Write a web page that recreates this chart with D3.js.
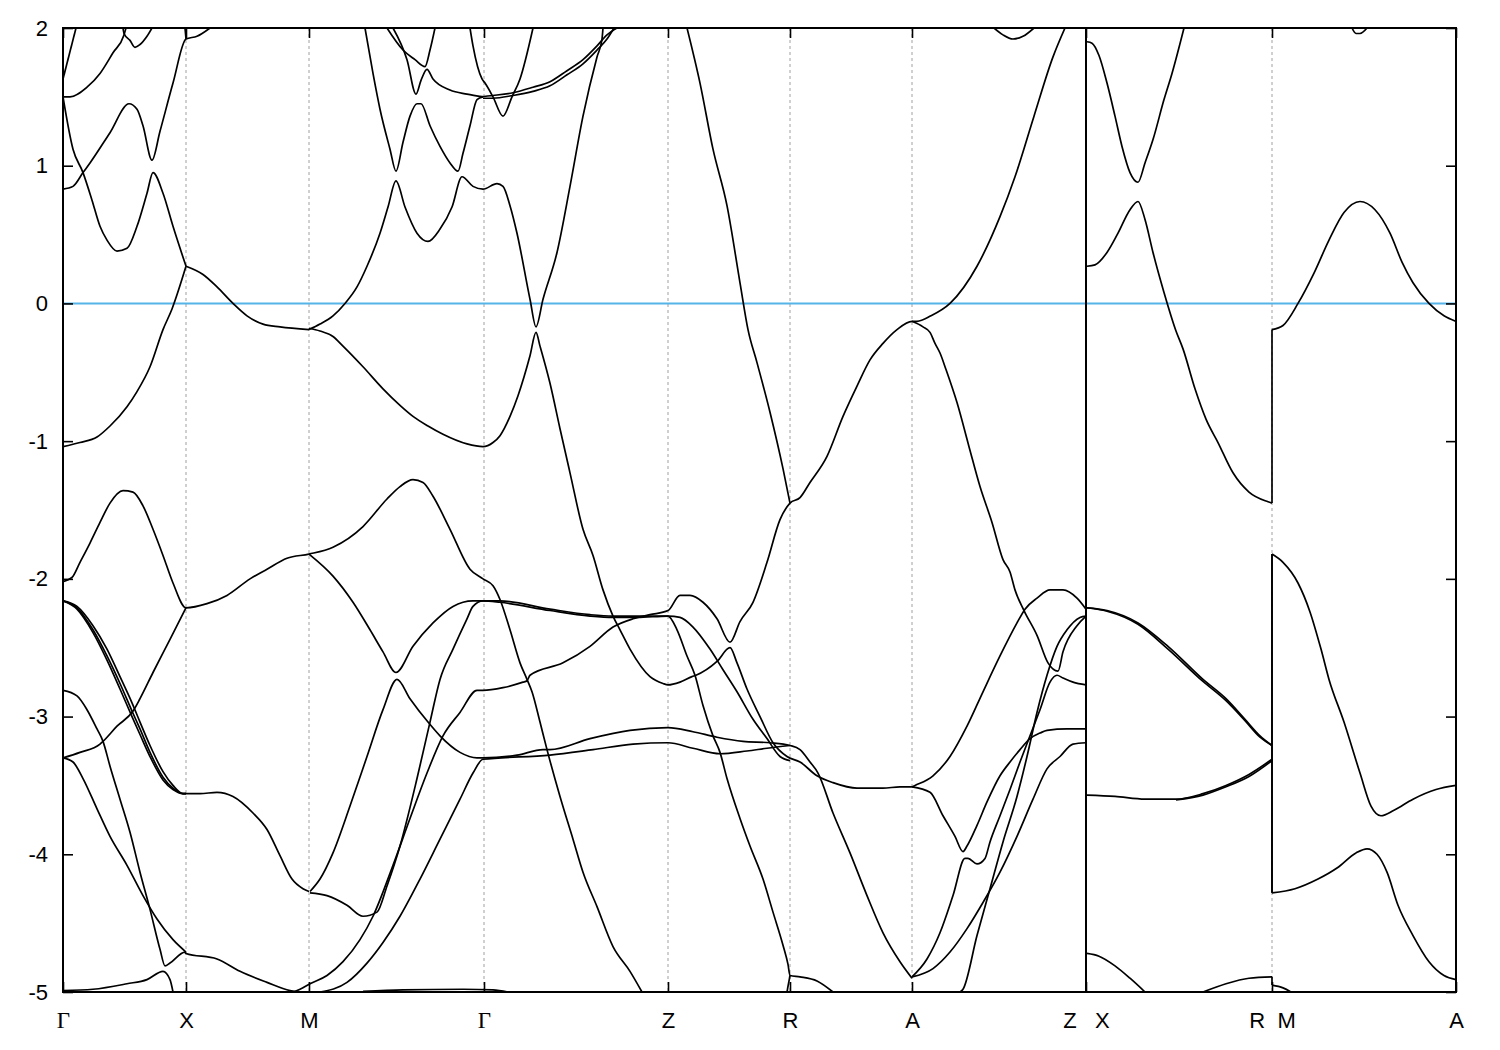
<!DOCTYPE html>
<html><head><meta charset="utf-8">
<script src="https://cdn.jsdelivr.net/npm/d3@7"></script>
<style>
body{margin:0;background:#fff}
svg{display:block}
text{font-family:"Liberation Sans",Arial,Helvetica,sans-serif;}
</style>
</head><body>
<svg id="chart" width="1500" height="1050"></svg>
<script>
// ---------- high-symmetry path (k in path-length units) ----------
const kTickPos    = [0, 123, 246, 421, 605, 727, 849, 1023, 1209, 1393];
const kTickLabels = ["Γ", "X", "M", "Γ", "Z", "R", "A", "Z   X", "R  M", "A"];
const kBreaks     = [1023];          // panel break drawn as solid line
const energyTicks = [-5, -4, -3, -2, -1, 0, 1, 2];
const energyRange = [-5, 2];
const fermiLevel  = 0;

// ---------- bands: [k, E(eV)] ----------
// Γ–X–M–Γ–Z–R–A–Z panel
const bandU1 = [[0,1.63],[13,2.0]];
const bandU2 = [[0,1.5],[7,1.5],[24,1.57],[37,1.67],[50,1.82],[61,1.95],[63,2.0]];
const bandU3 = [[60,2.0],[61,1.96],[67,1.91],[72,1.86],[77,1.88],[84,1.94],[89,2.0]];
const bandU4 = [[0,1.5],[10,1.12],[20,0.95],[29,0.75],[37,0.56],[44,0.46],[54,0.38],[64,0.40],[74,0.56],[84,0.80],[90,0.95],[100,0.80],[110,0.56],[123,0.27]];
const bandU5 = [[0,0.83],[10,0.85],[20,0.95],[27,1.02],[47,1.24],[66,1.45],[74,1.41],[80,1.29],[89,1.04],[97,1.25],[110,1.6],[123,1.92],[134,1.94],[147,2.0]];
const bandU6 = [[122,2.0],[123,1.92]];
const bandXM1 = [[123,0.27],[140,0.21],[154,0.12],[170,0.0],[184,-0.09],[200,-0.15],[217,-0.17],[246,-0.19]];
const bandC1 = [[302,2.0],[310,1.67],[317,1.41],[327,1.12],[333,0.96],[340,1.17],[347,1.36],[354,1.45],[358,1.45],[367,1.29],[377,1.14],[387,1.02],[395,0.96],[400,1.09],[407,1.29],[414,1.48],[420,1.5]];
const bandC2 = [[246,-0.19],[257,-0.15],[270,-0.09],[282,0.0],[294,0.12],[304,0.27],[317,0.51],[325,0.70],[333,0.89],[342,0.70],[354,0.51],[365,0.45],[377,0.54],[389,0.70],[399,0.92],[410,0.85],[420,0.83],[434,0.87],[440,0.85],[447,0.71],[454,0.51],[467,0.03],[473,-0.17],[480,0.03],[494,0.37],[507,0.85],[520,1.36],[534,1.79],[539,1.92],[540,2.0]];
const bandC3 = [[324,2.0],[340,1.84],[352,1.77],[362,1.72],[367,1.84],[372,2.0]];
const bandC4 = [[330,2.0],[344,1.77],[353,1.52],[358,1.62],[364,1.70],[370,1.63],[387,1.55],[404,1.52],[420,1.5]];
const bandC5 = [[407,2.0],[410,1.87],[419,1.63],[422,1.6],[430,1.5],[440,1.36],[449,1.5],[457,1.63],[470,2.0]];
const bandC6 = [[417,1.5],[430,1.51],[450,1.53],[470,1.57],[487,1.61],[504,1.69],[520,1.77],[534,1.87],[544,1.95],[554,2.0]];
const bandC7 = [[420,1.49],[430,1.49],[450,1.51],[470,1.54],[487,1.58],[504,1.66],[520,1.74],[534,1.84],[544,1.92],[551,2.0]];
const bandG1 = [[0,-1.04],[17,-1.01],[34,-0.97],[47,-0.89],[64,-0.75],[74,-0.64],[87,-0.46],[100,-0.19],[109,-0.04],[123,0.27]];
const bandG2 = [[0,-2.02],[9,-1.99],[17,-1.88],[27,-1.74],[37,-1.59],[47,-1.45],[60,-1.36],[70,-1.37],[80,-1.47],[90,-1.64],[100,-1.83],[110,-2.03],[123,-2.21],[144,-2.18],[164,-2.12],[187,-2.0],[204,-1.93],[224,-1.85],[246,-1.82],[270,-1.77],[300,-1.62],[324,-1.42],[337,-1.33],[350,-1.28],[360,-1.30],[370,-1.40],[387,-1.64],[407,-1.93],[420,-2.0],[430,-2.05],[437,-2.15],[447,-2.37],[457,-2.61],[464,-2.73],[469,-2.82],[477,-3.04],[484,-3.24],[497,-3.58],[510,-3.89],[520,-4.13],[534,-4.38],[550,-4.67],[567,-4.85],[579,-5.0]];
const bandG3 = [[0,-3.30],[17,-3.26],[37,-3.20],[40,-3.18],[54,-3.07],[70,-2.96],[77,-2.87],[90,-2.68],[107,-2.44],[123,-2.21]];
const bandG4 = [[0,-2.81],[14,-2.85],[24,-2.95],[34,-3.09],[40,-3.18],[47,-3.36],[57,-3.60],[67,-3.84],[77,-4.13],[87,-4.40],[97,-4.69],[102,-4.81],[107,-4.79],[122,-4.71],[123,-4.72],[154,-4.76],[177,-4.85],[204,-4.93],[227,-4.99],[234,-5.0]];
const bandG5 = [[0,-3.30],[10,-3.33],[20,-3.45],[34,-3.67],[47,-3.87],[64,-4.08],[80,-4.30],[94,-4.47],[110,-4.62],[123,-4.71]];
const bandG6a = [[0,-2.16],[14,-2.20],[30,-2.34],[44,-2.51],[57,-2.71],[69,-2.90],[77,-3.04],[87,-3.21],[100,-3.40],[110,-3.50],[120,-3.56],[123,-3.56]];
const bandG6b = [[0,-2.16],[14,-2.21],[30,-2.37],[44,-2.56],[57,-2.76],[69,-2.96],[77,-3.09],[87,-3.26],[100,-3.44],[110,-3.52],[120,-3.56],[123,-3.56]];
const bandG6c = [[0,-2.16],[14,-2.22],[30,-2.39],[44,-2.59],[57,-2.80],[69,-3.00],[77,-3.13],[87,-3.29],[100,-3.46],[110,-3.53],[120,-3.56],[123,-3.56]];
const bandXM2 = [[123,-3.56],[137,-3.56],[154,-3.55],[170,-3.58],[190,-3.70],[204,-3.82],[217,-4.01],[229,-4.18],[240,-4.25],[246,-4.27]];
const bandBotGX = [[0,-4.99],[30,-4.98],[64,-4.94],[84,-4.91],[100,-4.85],[107,-4.91],[110,-5.0]];
const bandBotMG = [[300,-4.995],[340,-4.985],[400,-4.98],[430,-4.985],[445,-5.0]];
const bandE1 = [[246,-0.18],[257,-0.20],[270,-0.24],[280,-0.31],[300,-0.46],[320,-0.62],[337,-0.74],[350,-0.82],[365,-0.89],[380,-0.95],[404,-1.02],[420,-1.04],[430,-1.01],[437,-0.96],[447,-0.82],[455,-0.67],[467,-0.38],[473,-0.21],[477,-0.31],[487,-0.58],[497,-0.91],[507,-1.23],[520,-1.64],[530,-1.83],[540,-2.08],[550,-2.27],[557,-2.37],[567,-2.51],[587,-2.71],[600,-2.76],[605,-2.77],[617,-2.75],[629,-2.71],[633,-2.70],[654,-2.60],[667,-2.50],[674,-2.61],[684,-2.80],[697,-3.0],[710,-3.19],[724,-3.29],[737,-3.33],[754,-3.43],[770,-3.48],[794,-3.52],[820,-3.52],[837,-3.51],[849,-3.51],[852,-3.50],[870,-3.43],[887,-3.29],[904,-3.07],[920,-2.82],[937,-2.56],[954,-2.32],[962,-2.22],[974,-2.14],[987,-2.08],[1000,-2.08],[1014,-2.14],[1023,-2.22]];
const bandL1 = [[230,-5.0],[237,-4.98],[247,-4.94],[264,-4.88],[280,-4.78],[297,-4.62],[310,-4.45],[330,-4.08],[347,-3.74],[364,-3.41],[380,-3.14],[397,-2.97],[414,-2.81],[420,-2.81],[440,-2.79],[460,-2.75],[464,-2.74],[467,-2.70],[500,-2.61],[527,-2.49],[550,-2.35],[570,-2.29],[587,-2.26],[605,-2.23],[617,-2.12],[627,-2.12],[640,-2.17],[654,-2.29],[667,-2.46],[677,-2.31],[690,-2.17],[704,-1.88],[717,-1.57],[727,-1.45],[737,-1.41],[747,-1.30],[764,-1.11],[780,-0.82],[794,-0.60],[807,-0.41],[820,-0.29],[834,-0.19],[849,-0.13],[854,-0.13],[868,-0.09],[887,0.0],[914,0.27],[937,0.63],[952,0.92],[971,1.36],[990,1.79],[1002,2.0]];
const bandL5 = [[247,-4.27],[257,-4.18],[270,-3.99],[287,-3.65],[304,-3.29],[320,-2.95],[334,-2.73],[347,-2.87],[365,-3.04],[377,-3.14],[397,-3.26],[414,-3.30],[420,-3.30],[454,-3.28],[480,-3.24],[487,-3.24],[527,-3.16],[567,-3.10],[605,-3.08],[630,-3.11],[654,-3.15],[680,-3.18],[707,-3.19],[727,-3.21],[737,-3.24],[747,-3.33],[755,-3.41],[770,-3.70],[787,-3.99],[804,-4.30],[820,-4.57],[837,-4.78],[849,-4.90]];
const bandL6 = [[257,-5.0],[284,-4.93],[304,-4.79],[320,-4.64],[337,-4.45],[357,-4.18],[377,-3.89],[397,-3.60],[410,-3.41],[420,-3.31],[487,-3.28],[530,-3.24],[570,-3.20],[605,-3.19],[630,-3.23],[657,-3.27],[684,-3.25],[704,-3.23],[727,-3.21]];
const bandII = [[247,-4.28],[264,-4.30],[284,-4.37],[300,-4.45],[314,-4.42],[324,-4.23],[337,-3.94],[354,-3.45],[367,-3.04],[377,-2.73],[390,-2.51],[404,-2.29],[410,-2.20],[420,-2.16],[437,-2.16],[487,-2.22],[527,-2.26],[550,-2.27],[574,-2.27],[605,-2.27],[617,-2.28],[630,-2.35],[647,-2.51],[660,-2.66],[674,-2.82],[690,-3.02],[704,-3.16],[717,-3.29],[727,-3.32]];
const bandV = [[246,-1.82],[270,-1.98],[290,-2.17],[307,-2.37],[320,-2.53],[333,-2.68],[350,-2.49],[370,-2.32],[390,-2.20],[410,-2.16],[420,-2.16],[437,-2.17],[487,-2.23],[527,-2.27],[550,-2.28],[574,-2.28],[605,-2.27],[614,-2.37],[624,-2.56],[632,-2.70],[640,-2.92],[650,-3.14],[657,-3.26],[664,-3.45],[677,-3.74],[687,-3.94],[700,-4.18],[710,-4.42],[720,-4.66],[725,-4.80],[727,-4.88],[737,-4.89],[754,-4.92],[770,-5.0]];
const bandRbot = [[724,-5.0],[727,-4.88]];
const bandZR1 = [[624,2.0],[637,1.60],[650,1.12],[664,0.71],[677,0.15],[685,-0.19],[694,-0.43],[707,-0.79],[720,-1.20],[727,-1.45]];
const bandE2 = [[849,-0.13],[860,-0.17],[867,-0.21],[872,-0.29],[877,-0.36],[883,-0.48],[894,-0.72],[906,-1.04],[917,-1.33],[929,-1.59],[940,-1.86],[947,-1.95],[952,-2.08],[961,-2.23],[974,-2.41],[985,-2.61],[995,-2.67],[1000,-2.53],[1014,-2.34],[1023,-2.27]];
const bandW1 = [[849,-3.51],[867,-3.55],[880,-3.72],[892,-3.87],[900,-3.98],[904,-3.94],[914,-3.79],[924,-3.62],[937,-3.43],[947,-3.33],[957,-3.24],[967,-3.16],[977,-3.12],[984,-3.10],[1004,-3.09],[1023,-3.09]];
const bandW2 = [[849,-4.89],[864,-4.76],[877,-4.57],[890,-4.30],[902,-4.03],[905,-4.03],[914,-4.07],[922,-4.03],[927,-3.91],[937,-3.72],[947,-3.53],[957,-3.33],[967,-3.14],[977,-2.95],[987,-2.75],[994,-2.70],[1000,-2.72],[1010,-2.75],[1023,-2.77]];
const bandW3 = [[849,-4.89],[870,-4.83],[887,-4.71],[904,-4.54],[920,-4.35],[937,-4.13],[954,-3.87],[970,-3.60],[984,-3.38],[997,-3.29],[1010,-3.20],[1023,-3.19]];
const bandW4 = [[897,-5.0],[900,-4.98],[914,-4.59],[927,-4.25],[940,-3.91],[954,-3.58],[964,-3.29],[974,-2.97],[984,-2.70],[994,-2.49],[1004,-2.37],[1017,-2.28],[1023,-2.27]];
const bandAZtop = [[931,2.0],[940,1.95],[950,1.92],[960,1.94],[971,2.0]];
// X–R | M–A panel
const bandR1 = [[1024,1.90],[1029,1.89],[1036,1.80],[1044,1.60],[1052,1.36],[1059,1.14],[1067,0.95],[1075,0.88],[1082,1.02],[1090,1.19],[1101,1.48],[1109,1.67],[1121,2.0]];
const bandR2 = [[1024,0.27],[1032,0.28],[1044,0.37],[1055,0.51],[1067,0.68],[1075,0.74],[1082,0.61],[1090,0.37],[1101,0.08],[1113,-0.20],[1120,-0.33],[1132,-0.62],[1143,-0.84],[1155,-1.01],[1170,-1.23],[1186,-1.37],[1205,-1.44],[1209,-1.45],[1209,-0.19],[1220,-0.16],[1235,0.0],[1251,0.22],[1266,0.46],[1281,0.66],[1297,0.74],[1312,0.68],[1327,0.51],[1339,0.30],[1350,0.15],[1366,0.0],[1381,-0.09],[1393,-0.13]];
const bandR3a = [[1024,-2.21],[1044,-2.23],[1075,-2.32],[1105,-2.49],[1140,-2.73],[1163,-2.87],[1182,-3.02],[1197,-3.14],[1209,-3.21],[1209,-1.82],[1220,-1.88],[1235,-2.03],[1247,-2.24],[1258,-2.51],[1266,-2.73],[1281,-3.04],[1297,-3.41],[1308,-3.65],[1318,-3.72],[1331,-3.68],[1350,-3.60],[1373,-3.53],[1393,-3.50]];
const bandR3b = [[1024,-2.21],[1044,-2.235],[1075,-2.33],[1105,-2.51],[1140,-2.745],[1163,-2.885],[1182,-3.03],[1197,-3.15],[1209,-3.21],[1209,-4.28]];
const bandR4a = [[1024,-3.57],[1052,-3.58],[1082,-3.60],[1113,-3.60],[1140,-3.56],[1163,-3.50],[1186,-3.42],[1209,-3.31],[1209,-4.28],[1232,-4.25],[1255,-4.18],[1274,-4.10],[1293,-3.99],[1304,-3.96],[1314,-4.0],[1324,-4.13],[1335,-4.37],[1350,-4.59],[1366,-4.78],[1381,-4.88],[1393,-4.91]];
const bandR4b = [[1113,-3.605],[1140,-3.57],[1163,-3.51],[1186,-3.435],[1209,-3.32],[1209,-1.82]];
const bandR5 = [[1024,-4.72],[1036,-4.74],[1052,-4.81],[1067,-4.90],[1082,-5.0]];
const bandR6 = [[1140,-5.0],[1163,-4.94],[1186,-4.90],[1209,-4.89],[1209,-4.95],[1220,-4.97],[1228,-5.0]];
const bandR7 = [[1289,2.0],[1293,1.96],[1297,1.96],[1304,2.0]];

const bands = [bandU1,bandU2,bandU3,bandU4,bandU5,bandU6,bandXM1,bandC1,bandC2,bandC3,bandC4,bandC5,bandC6,bandC7,
  bandG1,bandG2,bandG3,bandG4,bandG5,bandG6a,bandG6b,bandG6c,bandXM2,bandBotGX,bandBotMG,bandE1,bandL1,bandL5,bandL6,
  bandII,bandV,bandRbot,bandZR1,bandE2,bandW1,bandW2,bandW3,bandW4,bandAZtop,
  bandR1,bandR2,bandR3a,bandR3b,bandR4a,bandR4b,bandR5,bandR6,bandR7];

// ---------- drawing ----------
const svg = d3.select("#chart");
const plot = {left:63, right:1456, top:28, bottom:992};
const x = d3.scaleLinear().domain([kTickPos[0], kTickPos[kTickPos.length-1]]).range([plot.left, plot.right]);
const y = d3.scaleLinear().domain(energyRange).range([plot.bottom, plot.top]);
const bandWidth = 1.7;

svg.append("defs").append("clipPath").attr("id","clip")
  .append("rect").attr("x",plot.left).attr("y",plot.top)
  .attr("width",plot.right-plot.left).attr("height",plot.bottom-plot.top);

// dashed verticals at interior high-symmetry points
const interior = kTickPos.filter((k,i)=> i>0 && i<kTickPos.length-1 && !kBreaks.includes(k));
svg.append("g").selectAll("line").data(interior).join("line")
  .attr("x1",d=>x(d)).attr("x2",d=>x(d)).attr("y1",plot.top).attr("y2",plot.bottom)
  .attr("stroke","#a0a0a0").attr("stroke-width",1).attr("stroke-dasharray","3,3");

const g = svg.append("g").attr("clip-path","url(#clip)");

// Fermi level
g.append("line").attr("x1",plot.left).attr("x2",plot.right)
  .attr("y1",y(fermiLevel)).attr("y2",y(fermiLevel))
  .attr("stroke","#56b4e9").attr("stroke-width",2);

// bands: smooth runs, straight connectors at path discontinuities
const line = d3.line().x(d=>x(d[0])).y(d=>y(d[1])).curve(d3.curveMonotoneX);
bands.forEach(b=>{
  const runs=[]; let cur=[b[0]];
  for(let i=1;i<b.length;i++){
    if(b[i][0] > b[i-1][0]) cur.push(b[i]);
    else { runs.push(cur); g.append("line")
      .attr("x1",x(b[i-1][0])).attr("y1",y(b[i-1][1])).attr("x2",x(b[i][0])).attr("y2",y(b[i][1]))
      .attr("stroke","#000").attr("stroke-width",bandWidth); cur=[b[i]]; }
  }
  runs.push(cur);
  runs.forEach(r=>{ if(r.length>1) g.append("path").attr("d",line(r))
    .attr("fill","none").attr("stroke","#000").attr("stroke-width",bandWidth).attr("stroke-linejoin","round"); });
});

// panel break
svg.append("g").selectAll("line").data(kBreaks).join("line")
  .attr("x1",d=>x(d)).attr("x2",d=>x(d)).attr("y1",plot.top).attr("y2",plot.bottom)
  .attr("stroke","#000").attr("stroke-width",2);

// axes
const styleAxis = sel => { sel.select(".domain").remove();
  sel.selectAll(".tick line").attr("stroke","#000").attr("stroke-width",1.6);
  sel.selectAll("text").attr("fill","#000").style("font-size","22px")
     .style("font-family","'Liberation Sans', Arial, sans-serif").style("white-space","pre"); };

svg.append("g").attr("transform",`translate(${plot.left},0)`)
  .call(d3.axisLeft(y).tickValues(energyTicks).tickSize(-10).tickPadding(15).tickFormat(d => String(d)))
  .call(styleAxis);
svg.append("g").attr("transform",`translate(${plot.right},0)`)
  .call(d3.axisRight(y).tickValues(energyTicks).tickSize(-10).tickFormat(""))
  .call(styleAxis);
const xAxis = svg.append("g").attr("transform",`translate(0,${plot.bottom})`)
  .call(d3.axisBottom(x).tickValues(kTickPos).tickSize(-10).tickPadding(20).tickFormat((d,i)=>kTickLabels[i]))
  .call(styleAxis);
// Greek Γ in a serif face, as in the original
xAxis.selectAll(".tick text").filter(function(){ return this.textContent === "Γ"; })
  .style("font-family","'Liberation Serif', 'DejaVu Serif', serif").style("font-size","23px");
svg.append("g").attr("transform",`translate(0,${plot.top})`)
  .call(d3.axisTop(x).tickValues(kTickPos).tickSize(-10).tickFormat(""))
  .call(styleAxis);

// frame
svg.append("rect").attr("x",plot.left).attr("y",plot.top)
  .attr("width",plot.right-plot.left).attr("height",plot.bottom-plot.top)
  .attr("fill","none").attr("stroke","#000").attr("stroke-width",2);
</script>
</body></html>
